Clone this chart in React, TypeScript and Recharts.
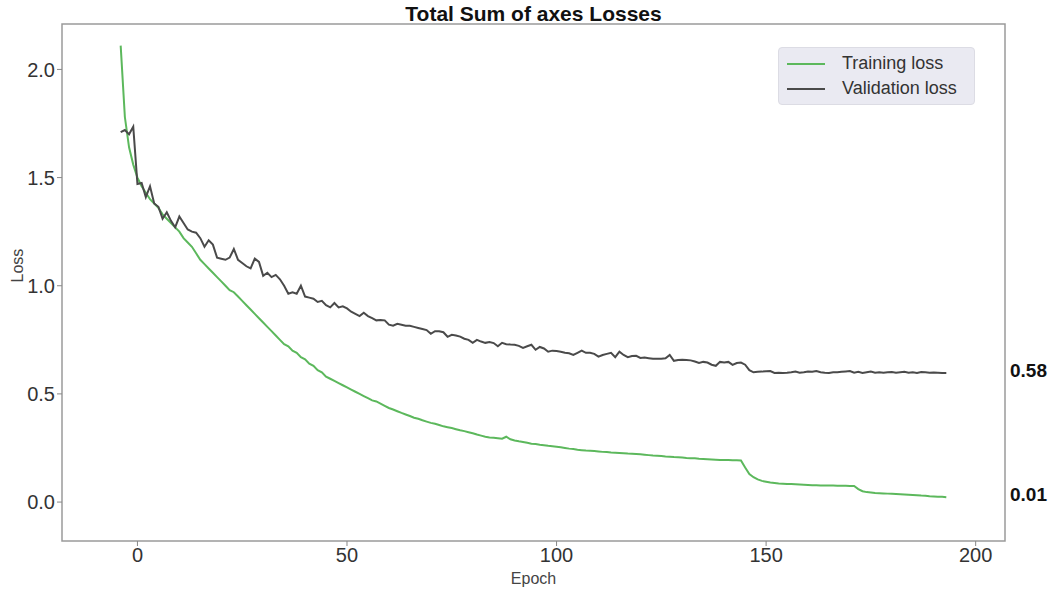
import {
  LineChart,
  Line,
  XAxis,
  YAxis,
  Legend,
  ReferenceArea,
  ReferenceDot,
} from "recharts";

const START_EPOCH = -4;

// one value per epoch
const trainingLoss = [
  2.11, 1.78, 1.64, 1.56, 1.5, 1.46, 1.43, 1.4, 1.38, 1.36,
  1.33, 1.31, 1.29, 1.27, 1.25, 1.22, 1.2, 1.18, 1.15, 1.12,
  1.1, 1.08, 1.06, 1.04, 1.02, 1.0, 0.98, 0.97, 0.95, 0.93,
  0.91, 0.89, 0.87, 0.85, 0.83, 0.81, 0.79, 0.77, 0.75, 0.73,
  0.72, 0.7, 0.69, 0.67, 0.66, 0.64, 0.63, 0.61, 0.6, 0.58,
  0.57, 0.56, 0.55, 0.54, 0.53, 0.52, 0.51, 0.5, 0.49, 0.48,
  0.47, 0.465, 0.455, 0.445, 0.435, 0.428, 0.42, 0.412, 0.405, 0.398,
  0.39, 0.385, 0.378, 0.372, 0.366, 0.362, 0.356, 0.35, 0.346, 0.342,
  0.337, 0.332, 0.328, 0.323, 0.318, 0.312, 0.307, 0.302, 0.299, 0.297,
  0.295, 0.293, 0.302, 0.29, 0.285, 0.281, 0.278, 0.274, 0.27, 0.268,
  0.265, 0.263, 0.26, 0.258, 0.256, 0.253, 0.25, 0.247, 0.245, 0.242,
  0.24, 0.238, 0.237, 0.236, 0.234, 0.232, 0.231, 0.229, 0.228, 0.227,
  0.226, 0.224, 0.223, 0.222, 0.221, 0.219, 0.217, 0.215, 0.214, 0.213,
  0.211, 0.21, 0.208, 0.207, 0.206, 0.204, 0.203, 0.202, 0.2, 0.199,
  0.198, 0.197, 0.196, 0.195, 0.194, 0.194, 0.193, 0.193, 0.192, 0.16,
  0.13, 0.115, 0.105, 0.098, 0.094, 0.09, 0.088, 0.086, 0.085, 0.084,
  0.083, 0.082, 0.081, 0.08, 0.079, 0.078, 0.078, 0.077, 0.077, 0.076,
  0.076, 0.075, 0.075, 0.075, 0.074, 0.074, 0.06, 0.05, 0.046, 0.044,
  0.042, 0.041, 0.04, 0.039, 0.038, 0.037, 0.036, 0.035, 0.034, 0.033,
  0.032, 0.03, 0.029, 0.027, 0.026, 0.025, 0.024, 0.022,
];

const validationLoss = [
  1.71, 1.72, 1.7, 1.735, 1.47, 1.475, 1.41, 1.46, 1.38, 1.365,
  1.31, 1.34, 1.3, 1.27, 1.32, 1.29, 1.26, 1.25, 1.245, 1.22,
  1.18, 1.21, 1.19, 1.13, 1.125, 1.12, 1.13, 1.17, 1.12, 1.105,
  1.09, 1.08, 1.125, 1.11, 1.046, 1.06, 1.04, 1.05, 1.03, 1.0,
  0.963, 0.97, 0.963, 1.0, 0.95, 0.945, 0.94, 0.925, 0.93, 0.91,
  0.9, 0.92, 0.9, 0.905, 0.895, 0.88, 0.87, 0.86, 0.875, 0.86,
  0.85, 0.84, 0.842, 0.84, 0.82, 0.815, 0.824, 0.82, 0.815, 0.815,
  0.81, 0.805, 0.8, 0.795, 0.778, 0.79, 0.79, 0.785, 0.764, 0.773,
  0.77, 0.765, 0.755, 0.75, 0.736, 0.75, 0.742, 0.736, 0.74, 0.735,
  0.72, 0.736, 0.73, 0.728, 0.727, 0.722, 0.713, 0.72, 0.727, 0.704,
  0.717, 0.71, 0.695, 0.7, 0.698, 0.695, 0.69, 0.688, 0.68, 0.69,
  0.7, 0.69, 0.69, 0.685, 0.672, 0.68, 0.685, 0.69, 0.67, 0.695,
  0.68, 0.67, 0.675, 0.676, 0.666, 0.668, 0.665, 0.662, 0.662, 0.662,
  0.665, 0.68, 0.653, 0.657, 0.658, 0.657, 0.655, 0.65, 0.643, 0.648,
  0.645, 0.635, 0.63, 0.648, 0.645, 0.648, 0.634, 0.643, 0.645, 0.635,
  0.61, 0.6, 0.602, 0.603, 0.605, 0.606, 0.597, 0.598, 0.597, 0.598,
  0.6, 0.603, 0.598, 0.6, 0.604, 0.602, 0.606, 0.6, 0.598, 0.597,
  0.6, 0.6, 0.602, 0.604, 0.606, 0.598, 0.602, 0.597, 0.6, 0.603,
  0.598, 0.6, 0.598, 0.6, 0.601, 0.598, 0.6, 0.602, 0.598, 0.6,
  0.597, 0.601, 0.6, 0.598, 0.599, 0.598, 0.597, 0.597,
];

const xTicks = [0, 50, 100, 150, 200];
const yTicks = [0, 0.5, 1, 1.5, 2];
const seriesNames = ["Training loss", "Validation loss"];
const endLabels = ["0.58", "0.01"];

const X_DOMAIN: [number, number] = [-18, 207];
const Y_DOMAIN: [number, number] = [-0.18, 2.21];

const GREEN = "#5cb85c";
const GREY = "#4a4a4a";
const FONT = "'Liberation Sans', Arial, sans-serif";

const data = trainingLoss.map((t, i) => ({
  epoch: START_EPOCH + i,
  train: t,
  val: validationLoss[i],
}));
const last = data[data.length - 1];

function LegendBox() {
  const items = [
    { name: seriesNames[0], color: GREEN },
    { name: seriesNames[1], color: GREY },
  ];
  return (
    <div
      style={{
        background: "#eaeaf2",
        border: "1px solid #dcdce4",
        borderRadius: 4,
        padding: "3px 8px",
        fontFamily: FONT,
        fontSize: 18,
        color: "#333",
        boxSizing: "border-box",
      }}
    >
      {items.map((it) => (
        <div key={it.name} style={{ display: "flex", alignItems: "center", height: 25 }}>
          <span
            style={{
              display: "inline-block",
              width: 38,
              height: 2,
              background: it.color,
              marginRight: 17,
            }}
          />
          {it.name}
        </div>
      ))}
    </div>
  );
}

function EndLabel({ viewBox, text }: { viewBox?: any; text: string }) {
  if (!viewBox) return null;
  const y = viewBox.y + (viewBox.height || 0) / 2 - 3;
  return (
    <text
      x={1010}
      y={y}
      dy="0.35em"
      fill="#111"
      fontFamily={FONT}
      fontSize={19}
      fontWeight="bold"
    >
      {text}
    </text>
  );
}

export default function App() {
  return (
    <div style={{ position: "absolute", left: 0, top: 0, width: 1055, height: 590, background: "#fff" }}>
      <div
        style={{
          position: "absolute",
          top: 2,
          left: 62,
          width: 943,
          textAlign: "center",
          fontFamily: FONT,
          fontWeight: "bold",
          fontSize: 21,
          color: "#111",
        }}
      >
        Total Sum of axes Losses
      </div>
      <LineChart
        width={1055}
        height={590}
        data={data}
        margin={{ top: 24, right: 50, bottom: 9, left: 12 }}
      >
        <XAxis
          dataKey="epoch"
          type="number"
          domain={X_DOMAIN}
          ticks={xTicks}
          allowDataOverflow
          height={40}
          axisLine={false}
          tickLine={{ stroke: "#888" }}
          tickSize={5}
          tick={{ fontSize: 20, fill: "#333", fontFamily: FONT }}
          label={{
            value: "Epoch",
            position: "insideBottom",
            offset: -3,
            fontSize: 16,
            fill: "#444",
            fontFamily: FONT,
          }}
        />
        <YAxis
          type="number"
          domain={Y_DOMAIN}
          ticks={yTicks}
          allowDataOverflow
          width={50}
          axisLine={false}
          tickLine={{ stroke: "#888" }}
          tickSize={5}
          tickFormatter={(v: number) => v.toFixed(1)}
          tick={{ fontSize: 20, fill: "#333", fontFamily: FONT }}
          label={{
            value: "Loss",
            angle: -90,
            position: "insideLeft",
            offset: 5,
            fontSize: 16,
            fill: "#444",
            fontFamily: FONT,
          }}
        />
        <ReferenceArea
          x1={X_DOMAIN[0]}
          x2={X_DOMAIN[1]}
          y1={Y_DOMAIN[0]}
          y2={Y_DOMAIN[1]}
          fill="none"
          stroke="#9a9a9a"
          strokeWidth={1.5}
        />
        <Line
          dataKey="train"
          name={seriesNames[0]}
          stroke={GREEN}
          strokeWidth={2}
          dot={false}
          isAnimationActive={false}
        />
        <Line
          dataKey="val"
          name={seriesNames[1]}
          stroke={GREY}
          strokeWidth={2}
          dot={false}
          isAnimationActive={false}
        />
        <ReferenceDot
          x={last.epoch}
          y={last.val}
          r={0}
          stroke="none"
          label={<EndLabel text={endLabels[0]} />}
        />
        <ReferenceDot
          x={last.epoch}
          y={last.train}
          r={0}
          stroke="none"
          label={<EndLabel text={endLabels[1]} />}
        />
        <Legend
          layout="vertical"
          align="center"
          verticalAlign="middle"
          wrapperStyle={{ top: 47, left: 778, width: 197 }}
          content={() => <LegendBox />}
        />
      </LineChart>
    </div>
  );
}
